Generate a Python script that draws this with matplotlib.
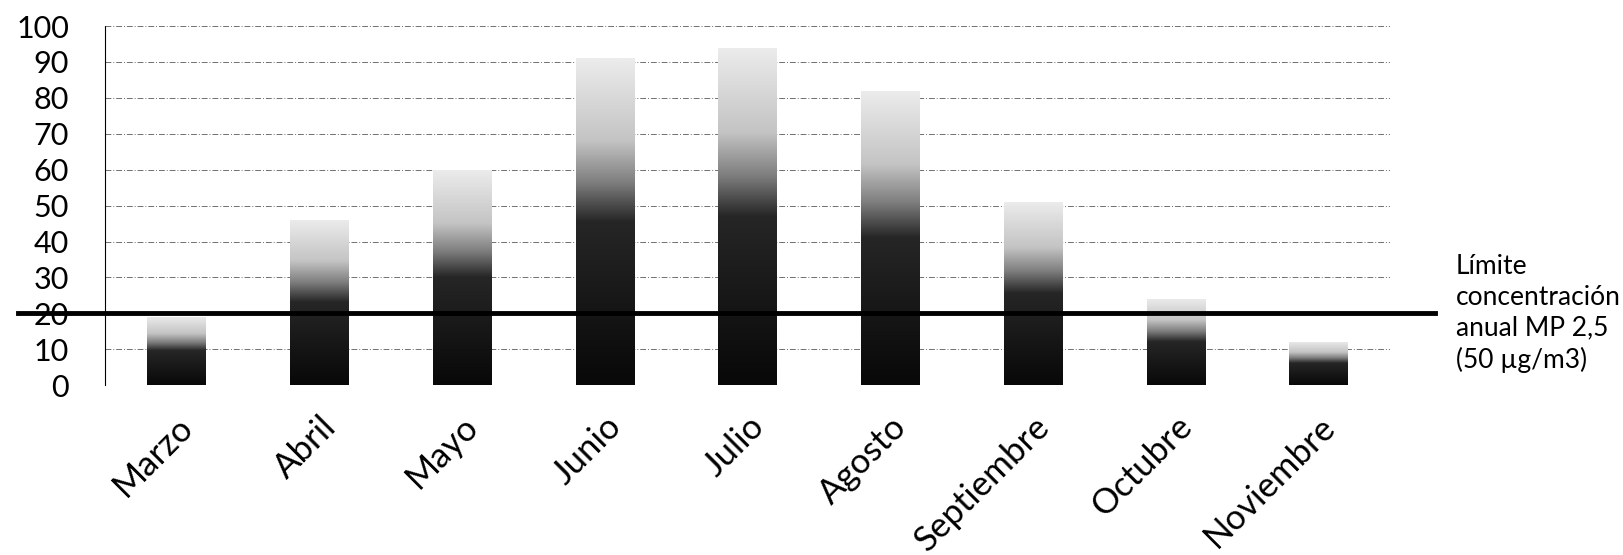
import numpy as np
import matplotlib
matplotlib.use('Agg')
import matplotlib.pyplot as plt
from matplotlib.colors import LinearSegmentedColormap

plt.rcParams['font.family'] = ['Lato', 'DejaVu Sans']

meses = ['Marzo', 'Abril', 'Mayo', 'Junio', 'Julio', 'Agosto',
         'Septiembre', 'Octubre', 'Noviembre']
valores = [19, 46, 60, 91, 94, 82, 51, 24, 12]
limite = 20
yticks = [0, 10, 20, 30, 40, 50, 60, 70, 80, 90, 100]
texto_limite = 'Límite\nconcentración\nanual MP 2,5\n(50 µg/m3)'

fig = plt.figure(figsize=(16.24, 5.55), dpi=100)
ax = fig.add_axes([0.0647, 0.306, 0.7913, 0.647])

# gradient: dark at the bottom, light at the top
cmap = LinearSegmentedColormap.from_list(
    'gris', [(0, '#080808'), (0.5, '#262626'), (0.62, '#7e7e7e'),
             (0.75, '#c4c4c4'), (1, '#ececec')])
grad = np.linspace(0, 1, 256).reshape(-1, 1)

barras = ax.bar(range(len(meses)), valores, width=0.41, color='none', edgecolor='none', zorder=3)
for b in barras:
    x0, w, h = b.get_x(), b.get_width(), b.get_height()
    im = ax.imshow(grad, cmap=cmap, origin='lower', aspect='auto',
                   extent=[x0, x0 + w, 0, h], zorder=3)
    im.set_clip_path(b)

ax.set_xlim(-0.5, len(meses) - 0.5)
ax.set_ylim(0, 100)
ax.set_yticks(yticks)
ax.set_yticklabels([str(t) for t in yticks], fontsize=22)
ax.set_xticks(range(len(meses)))
ax.set_xticklabels(meses, fontsize=25, rotation=45, ha='right', rotation_mode='anchor')
ax.tick_params(axis='y', length=0, pad=26)
ax.tick_params(axis='x', length=0, pad=18)

for t in yticks:
    ax.axhline(t, color='#707070', linewidth=0.7, linestyle=(0, (6, 2, 1, 2)), zorder=1)

for s in ['top', 'right', 'bottom']:
    ax.spines[s].set_visible(False)
ax.spines['left'].set_linestyle((0, (3, 1)))
ax.spines['left'].set_linewidth(0.8)

# limit line, extending past the plot area on both sides
ax.plot([-0.068, 1.035], [limite, limite], transform=ax.get_yaxis_transform(),
        color='black', linewidth=3.5, clip_on=False, zorder=5)

ax.text(1.051, 0.2, texto_limite, transform=ax.transAxes, fontsize=19,
        va='center', ha='left', linespacing=1.3)

fig.set_facecolor('white')
plt.savefig('out.png', dpi=100)
